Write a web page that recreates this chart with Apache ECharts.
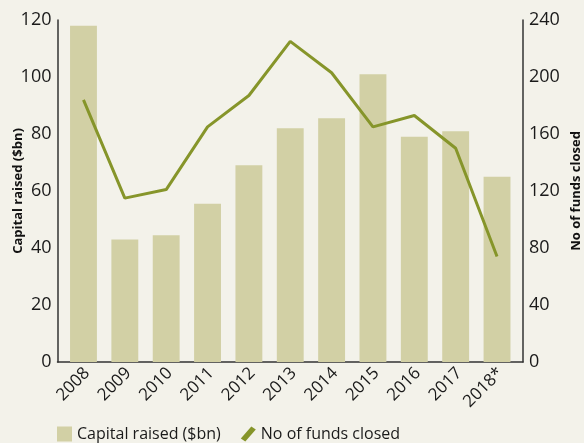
<!DOCTYPE html>
<html>
<head>
<meta charset="utf-8">
<script src="https://cdn.jsdelivr.net/npm/echarts@6/dist/echarts.min.js"></script>
<style>
  html, body { margin: 0; padding: 0; background: #f3f2ea; }
  #chart { width: 584px; height: 443px; }
</style>
</head>
<body>
<div id="chart"></div>
<script>
  const years = ['2008', '2009', '2010', '2011', '2012', '2013', '2014', '2015', '2016', '2017', '2018*']
  const capitalRaised = [118, 43, 44.5, 55.5, 69, 82, 85.5, 101, 79, 81, 65]
  const fundsClosed = [184, 115, 121, 165, 187, 225, 203, 165, 173, 150, 74]
  const leftTicks = [0, 120, 20]
  const rightTicks = [0, 240, 40]

  const font = '"Open Sans", "Noto Sans", sans-serif'
  const barColor = '#d2d0a5'
  const lineColor = '#86952a'
  const axisColor = '#333'

  const mychart = echarts.init(document.getElementById('chart'))
  mychart.setOption({
    backgroundColor: '#f3f2ea',
    animation: false,
    textStyle: { fontFamily: font },
    grid: [
      // plot area for the marks (a bit inset from the axis lines)
      { left: 62.8, right: 66.3, top: 20, bottom: 81, outerBoundsMode: 'none', containLabel: false },
      // full frame, only used to draw the bottom axis line
      { left: 57.5, right: 61, top: 20, bottom: 81, outerBoundsMode: 'none', containLabel: false }
    ],
    legend: {
      top: 421,
      left: 52,
      itemGap: 20,
      itemWidth: 15,
      itemHeight: 15,
      textStyle: { color: '#1a1a1a', fontSize: 16, fontFamily: font },
      data: [
        { name: 'Capital raised ($bn)', icon: 'rect' },
        { name: 'No of funds closed', icon: 'path://M7,0 L10,2 L3,10 L0,8 Z' }
      ]
    },
    xAxis: [
      {
        type: 'category',
        gridIndex: 0,
        data: years,
        axisLine: { show: false },
        axisTick: { show: false },
        axisLabel: { rotate: 45, color: '#1a1a1a', fontSize: 17, margin: 12, padding: [0, -5, 0, 0], fontFamily: font }
      },
      {
        type: 'value',
        gridIndex: 1,
        axisLine: { show: true, lineStyle: { color: axisColor, width: 1.5 } },
        axisTick: { show: false },
        axisLabel: { show: false },
        splitLine: { show: false }
      }
    ],
    yAxis: [
      {
        type: 'value',
        gridIndex: 0,
        offset: 5.3,
        min: leftTicks[0], max: leftTicks[1], interval: leftTicks[2],
        name: 'Capital raised ($bn)',
        nameLocation: 'middle',
        nameRotate: 90,
        nameGap: 33,
        nameMoveOverlap: false,
        nameTextStyle: { color: '#111', fontSize: 13, fontWeight: 'bold', fontFamily: font },
        axisLine: { show: true, lineStyle: { color: axisColor, width: 1.5 } },
        axisTick: { show: false },
        splitLine: { show: false },
        axisLabel: { color: '#1a1a1a', fontSize: 18, margin: 6, fontFamily: font }
      },
      {
        type: 'value',
        gridIndex: 0,
        offset: 5.3,
        min: rightTicks[0], max: rightTicks[1], interval: rightTicks[2],
        name: 'No of funds closed',
        nameLocation: 'middle',
        nameRotate: 90,
        nameGap: 47,
        nameMoveOverlap: false,
        nameTextStyle: { color: '#111', fontSize: 13, fontWeight: 'bold', fontFamily: font },
        axisLine: { show: true, lineStyle: { color: axisColor, width: 1.5 } },
        axisTick: { show: false },
        splitLine: { show: false },
        axisLabel: { color: '#1a1a1a', fontSize: 18, margin: 6, fontFamily: font }
      },
      {
        type: 'value',
        gridIndex: 1,
        show: false
      }
    ],
    series: [
      {
        name: 'Capital raised ($bn)',
        type: 'bar',
        data: capitalRaised,
        barCategoryGap: '35%',
        itemStyle: { color: barColor }
      },
      {
        name: 'No of funds closed',
        type: 'line',
        yAxisIndex: 1,
        data: fundsClosed,
        symbol: 'none',
        lineStyle: { color: lineColor, width: 3 },
        itemStyle: { color: lineColor }
      }
    ]
  })
</script>
</body>
</html>
